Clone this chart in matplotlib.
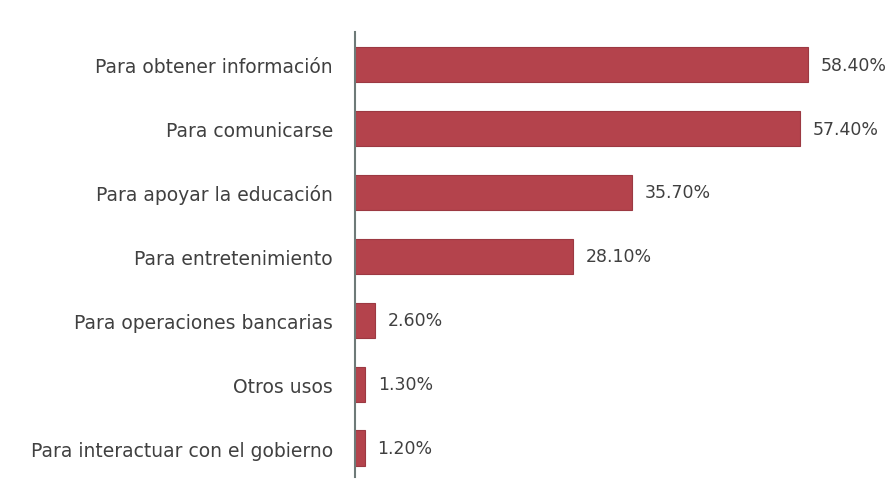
import matplotlib
matplotlib.use("Agg")
import matplotlib.pyplot as plt

categorias = ['Para obtener información', 'Para comunicarse', 'Para apoyar la educación',
              'Para entretenimiento', 'Para operaciones bancarias', 'Otros usos',
              'Para interactuar con el gobierno']
valores = [58.4, 57.4, 35.7, 28.1, 2.6, 1.3, 1.2]
etiquetas = ['58.40%', '57.40%', '35.70%', '28.10%', '2.60%', '1.30%', '1.20%']

plt.rcParams['font.family'] = ['DejaVu Sans']

fig = plt.figure(figsize=(8.95, 4.81), dpi=100)
ax = fig.add_axes([0.397, 0.006, 0.603, 0.925])

pos = list(range(len(categorias)))
ax.barh(pos, valores, height=0.55, color='#B4434C', edgecolor='#9C3942', linewidth=0.8)
for p, v, t in zip(pos, valores, etiquetas):
    ax.text(v + 1.6, p, t, va='center', ha='left', fontsize=12.5, color='#404040')

ax.set_yticks(pos)
ax.set_yticklabels(categorias, fontsize=13.5, color='#404040')
ax.set_ylim(6.455, -0.508)
ax.set_xlim(0, 69.6)
ax.set_xticks([])
ax.tick_params(axis='y', length=0, pad=16)
for s in ['top', 'right', 'bottom']:
    ax.spines[s].set_visible(False)
ax.spines['left'].set_color('#6E7A78')
ax.spines['left'].set_linewidth(1.5)

fig.savefig('out.png', dpi=100)
